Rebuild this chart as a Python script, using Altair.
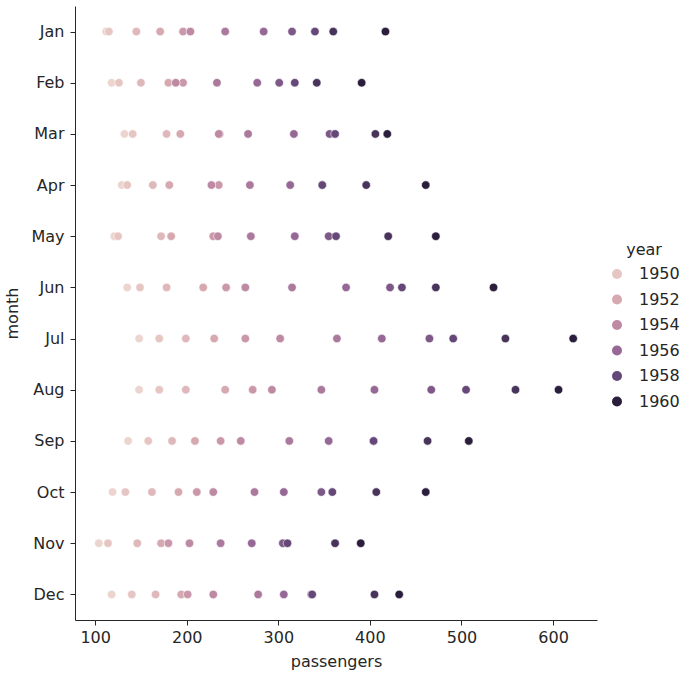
import altair as alt
import pandas as pd

months = ["Jan", "Feb", "Mar", "Apr", "May", "Jun", "Jul", "Aug", "Sep", "Oct", "Nov", "Dec"]
years = list(range(1949, 1961))
p1949 = [112, 118, 132, 129, 121, 135, 148, 148, 136, 119, 104, 118]
p1950 = [115, 126, 141, 135, 125, 149, 170, 170, 158, 133, 114, 140]
p1951 = [145, 150, 178, 163, 172, 178, 199, 199, 184, 162, 146, 166]
p1952 = [171, 180, 193, 181, 183, 218, 230, 242, 209, 191, 172, 194]
p1953 = [196, 196, 236, 235, 229, 243, 264, 272, 237, 211, 180, 201]
p1954 = [204, 188, 235, 227, 234, 264, 302, 293, 259, 229, 203, 229]
p1955 = [242, 233, 267, 269, 270, 315, 364, 347, 312, 274, 237, 278]
p1956 = [284, 277, 317, 313, 318, 374, 413, 405, 355, 306, 271, 306]
p1957 = [315, 301, 356, 348, 355, 422, 465, 467, 404, 347, 305, 336]
p1958 = [340, 318, 362, 348, 363, 435, 491, 505, 404, 359, 310, 337]
p1959 = [360, 342, 406, 396, 420, 472, 548, 559, 463, 407, 362, 405]
p1960 = [417, 391, 419, 461, 472, 535, 622, 606, 508, 461, 390, 432]
series = [p1949, p1950, p1951, p1952, p1953, p1954, p1955, p1956, p1957, p1958, p1959, p1960]
legend_years = [1950, 1952, 1954, 1956, 1958, 1960]
x_ticks = [100, 200, 300, 400, 500, 600]

# colour stops (style), one per year, light to dark
year_colors = ["#ecd4cf", "#e6c6c3", "#dfb8bb", "#d6a8b0", "#ca98aa", "#bd89a3",
               "#ab799c", "#966896", "#7e5887", "#654878", "#48335a", "#2b1d3c"]

rows = []
for yr, vals in zip(years, series):
    for m, v in zip(months, vals):
        rows.append({"month": m, "passengers": v, "year": yr})
df = pd.DataFrame(rows)

font = "DejaVu Sans"

chart = alt.Chart(df).mark_point(
    filled=True, size=72, opacity=1, stroke="white", strokeWidth=0.6
).encode(
    x=alt.X("passengers:Q",
            scale=alt.Scale(domain=[78, 648], nice=False, zero=False),
            axis=alt.Axis(values=x_ticks, title="passengers", grid=False,
                          titlePadding=8)),
    y=alt.Y("month:N", sort=months,
            scale=alt.Scale(type="point", padding=0.5),
            axis=alt.Axis(title="month", grid=False, labelPadding=6,
                          titlePadding=10)),
    color=alt.Color("year:O",
                    scale=alt.Scale(domain=years, range=year_colors),
                    legend=alt.Legend(values=legend_years, title="year",
                                      orient="none", legendX=534, legendY=236,
                                      symbolType="circle", symbolSize=100,
                                      symbolStrokeWidth=0, rowPadding=9.5,
                                      labelFontSize=16, titleFontSize=16,
                                      labelFont=font, titleFont=font,
                                      labelColor="#262626", titleColor="#262626",
                                      titleFontWeight="normal", labelOffset=14,
                                      titlePadding=8, titleAnchor="middle")),
    order=alt.Order("year:Q"),
).properties(
    width=522, height=614,
    autosize=alt.AutoSizeParams(type="none"),
    padding={"left": 75, "top": 6, "right": 103, "bottom": 55},
).configure_view(
    stroke=None
).configure_axis(
    labelFont=font, titleFont=font, labelFontSize=16, titleFontSize=16,
    titleFontWeight="normal", labelColor="#262626", titleColor="#262626",
    domainColor="#262626", tickColor="#262626", tickSize=5, domainWidth=1,
    labelPadding=4
)

chart.save("out.html", embed_options={"renderer": "svg", "actions": False})
